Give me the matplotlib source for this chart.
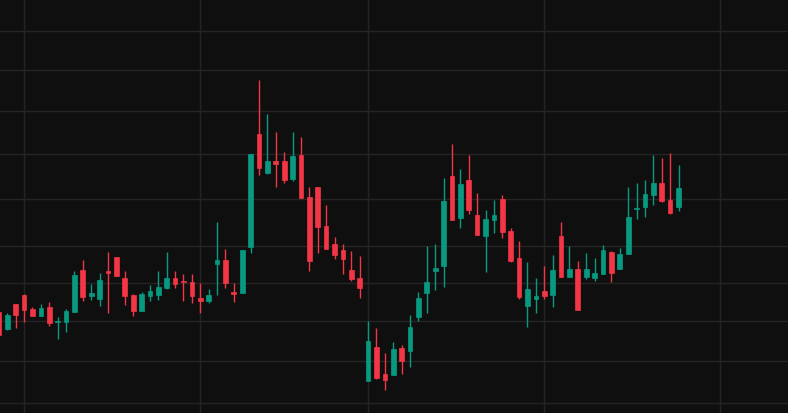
import matplotlib
matplotlib.use("Agg")
import matplotlib.pyplot as plt
from matplotlib.ticker import NullLocator
import numpy as np

# daily OHLC (log price scale)
opens = [1868, 1835, 1883, 1901, 1874, 1860, 1877, 1849, 1848, 1868,
         1951, 1899, 1893, 1949, 1977, 1935, 1901, 1870, 1899, 1901,
         1915, 1935, 1929, 1927, 1895, 1889, 1963, 1971, 1907, 1905,
         1998, 2247, 2157, 2185, 2185, 2144, 2198, 2104, 2126, 2042,
         2004, 1992, 1951, 1935, 1739, 1801, 1751, 1750, 1799, 1794,
         1858, 1905, 1949, 1959, 2151, 2059, 2142, 2065, 2021, 2055,
         2100, 2031, 1975, 1879, 1893, 1909, 1901, 2021, 1937, 1953,
         1937, 1935, 1943, 1988, 1953, 1984, 2078, 2083, 2109, 2135,
         2098, 2083]
highs = [1869, 1866, 1884, 1902, 1877, 1883, 1887, 1858, 1874, 1949,
         1971, 1923, 1945, 1988, 1978, 1949, 1902, 1907, 1921, 1949,
         1988, 1949, 1943, 1943, 1925, 1913, 2050, 1994, 1925, 1992,
         2201, 2376, 2294, 2251, 2205, 2251, 2240, 2126, 2127, 2087,
         2019, 2004, 1990, 1979, 1850, 1837, 1790, 1810, 1805, 1862,
         1907, 2000, 2004, 2146, 2223, 2166, 2198, 2113, 2076, 2098,
         2109, 2038, 2010, 1967, 1935, 1959, 1981, 2050, 2000, 1969,
         1986, 1975, 2002, 1990, 1996, 2126, 2135, 2142, 2198, 2191,
         2203, 2175]
lows = [1822, 1834, 1837, 1848, 1859, 1859, 1841, 1816, 1829, 1867,
        1889, 1891, 1879, 1866, 1938, 1881, 1860, 1869, 1889, 1891,
        1913, 1915, 1889, 1885, 1866, 1885, 1901, 1915, 1887, 1904,
        1986, 2153, 2156, 2126, 2135, 2140, 2101, 1949, 1986, 1993,
        1973, 1943, 1929, 1895, 1738, 1743, 1723, 1749, 1751, 1764,
        1850, 1866, 1911, 1917, 2054, 2038, 2068, 2022, 1947, 2027,
        2017, 1968, 1893, 1839, 1866, 1893, 1877, 1936, 1936, 1871,
        1933, 1929, 1942, 1927, 1952, 1983, 2057, 2061, 2087, 2093,
        2068, 2074]
closes = [1824, 1862, 1862, 1872, 1860, 1875, 1847, 1850, 1870, 1941,
          1897, 1905, 1931, 1945, 1939, 1899, 1870, 1903, 1909, 1917,
          1935, 1923, 1927, 1899, 1889, 1901, 1971, 1925, 1903, 1992,
          2200, 2169, 2185, 2178, 2142, 2196, 2102, 1969, 2040, 1994,
          1982, 1973, 1933, 1915, 1812, 1744, 1741, 1797, 1775, 1839,
          1895, 1927, 1955, 2096, 2055, 2133, 2076, 2023, 2057, 2065,
          2029, 1969, 1897, 1913, 1899, 1899, 1951, 1937, 1953, 1872,
          1953, 1945, 1992, 1945, 1984, 2061, 2080, 2111, 2135, 2096,
          2070, 2124]

price_levels = [1700, 1775, 1850, 1925, 2000, 2100, 2200, 2300, 2400, 2500]
month_starts = [3, 24, 44, 65, 86]

up_color = "#089981"
down_color = "#f23645"
bg = "#0f0f0f"

o = np.array(opens)
h = np.array(highs)
l = np.array(lows)
c = np.array(closes)
x = np.arange(len(o))
colors = np.where(c >= o, up_color, down_color)

fig = plt.figure(figsize=(7.88, 4.13), dpi=100, facecolor=bg)
ax = fig.add_axes([0, 0, 1, 1], facecolor=bg)

ax.set_yscale("log")
ax.vlines(x, l, h, colors=colors, linewidth=1, zorder=2)
ax.bar(x, np.abs(c - o), bottom=np.minimum(o, c), width=0.56,
       color=colors, edgecolor=colors, linewidth=0.5, zorder=3)

ax.set_xlim(0.13, 94.05)
ax.set_ylim(1682, 2581)

ax.set_yticks(price_levels)
ax.yaxis.set_minor_locator(NullLocator())
ax.set_xticks(month_starts)
ax.grid(True, color="#242424", linewidth=1)
ax.set_axisbelow(True)
ax.tick_params(length=0, labelleft=False, labelbottom=False)
for s in ax.spines.values():
    s.set_visible(False)

fig.savefig("out.png", dpi=100, facecolor=bg)
